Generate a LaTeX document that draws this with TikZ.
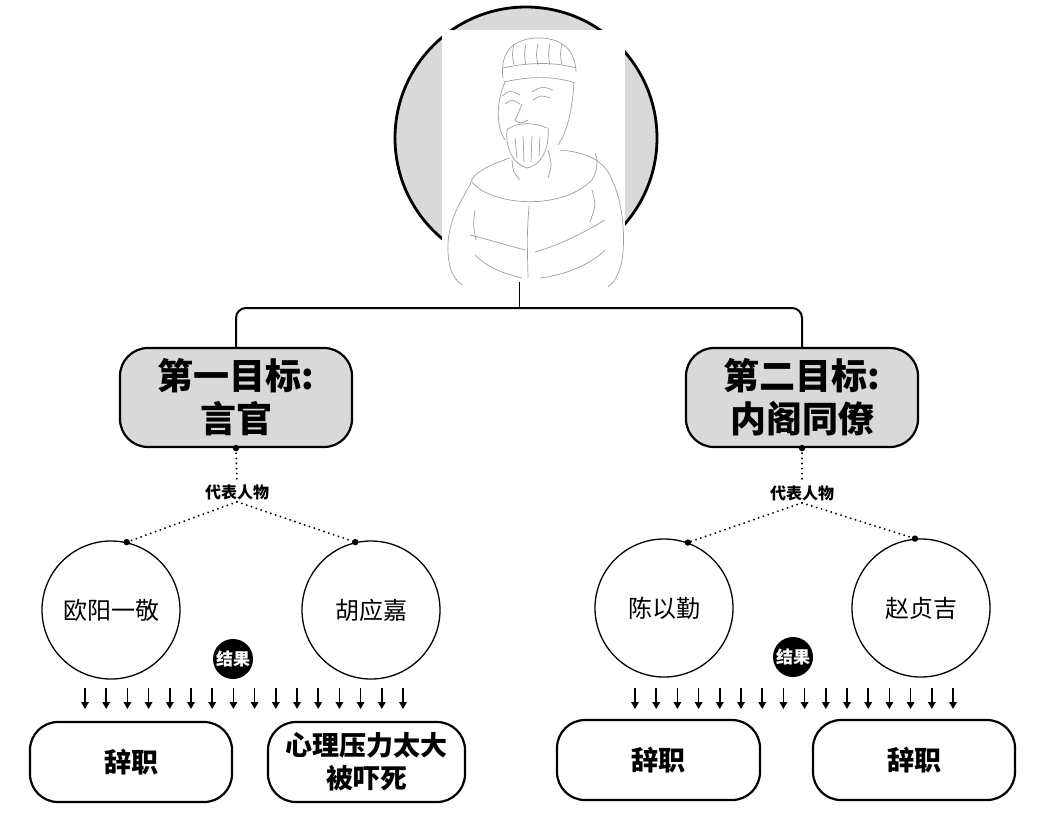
\documentclass[tikz,border=0pt]{standalone}
\usepackage{fontspec}
\newfontfamily\cjk{Noto Sans CJK SC}
\usetikzlibrary{arrows.meta}

\begin{document}
\begin{tikzpicture}[x=1pt,y=-1pt,
  goal/.style={rectangle, rounded corners=28pt, draw=black, line width=2.2pt, fill=gray!30,
    minimum width=232pt, minimum height=99pt, align=center,
    font={\cjk\bfseries\fontsize{36}{43}\selectfont}},
  person/.style={circle, draw=black, line width=1.3pt, minimum size=138pt,
    font={\cjk\fontsize{24}{28}\selectfont}},
  outcome/.style={rectangle, rounded corners=28pt, draw=black, line width=2.2pt, fill=white,
    minimum height=80pt, align=center, font={\cjk\bfseries\fontsize{27}{33}\selectfont}},
  tag/.style={font={\cjk\bfseries\fontsize{16}{18}\selectfont}, inner sep=2pt},
  result/.style={circle, fill=black, text=white, minimum size=40pt, inner sep=0pt,
    font={\cjk\bfseries\fontsize{17}{19}\selectfont}},
  link/.style={draw=black, line width=2pt},
  dotline/.style={draw=black, line width=2pt, line cap=round, dash pattern=on 0.1pt off 5pt},
  tick/.style={draw=black, line width=1.7pt, -{Triangle[length=7pt,width=7.5pt]}},
  sketch/.style={draw=gray!75, line width=0.7pt}]
\path[use as bounding box, fill=white] (0,0) rectangle (1038,812);

% portrait
\node[circle, draw=black, line width=2.8pt, fill=gray!30, minimum size=262pt] (portrait) at (526,138) {};
\node[rectangle, fill=white, minimum width=183pt, minimum height=256pt, inner sep=0pt] (figure) at (533.5,158) {};
\draw[sketch] (503,78) .. controls (500,55) and (510,40) .. (535,38) .. controls (560,37) and (575,48) .. (576,72);
\draw[sketch] (503,68) .. controls (530,62) and (555,62) .. (576,68);
\draw[sketch] (504,82) .. controls (530,76) and (555,76) .. (575,83);
\foreach \s in {514,526,538,550,562}
  \draw[sketch] (\s,44) .. controls (\s-2,54) .. (\s,65);
\draw[sketch] (505,82) .. controls (497,100) and (495,125) .. (505,140);
\draw[sketch] (574,83) .. controls (572,110) and (568,130) .. (558,145);
\draw[sketch] (502,96) .. controls (510,90) .. (520,95);
\draw[sketch] (532,92) .. controls (542,86) .. (553,90);
\draw[sketch] (505,104) .. controls (512,99) .. (520,104);
\draw[sketch] (533,100) .. controls (541,95) .. (550,98);
\draw[sketch] (522,104) .. controls (518,114) .. (515,120) .. controls (520,124) .. (528,120);
\draw[sketch] (507,130) .. controls (515,122) and (535,122) .. (547,128);
\draw[sketch] (507,130) .. controls (505,150) and (515,165) .. (527,168) .. controls (540,166) and (550,150) .. (548,128);
\draw[sketch] (515,138) -- (517,158) (523,136) -- (524,162) (532,136) -- (531,162) (540,137) -- (539,156);
\draw[sketch] (512,160) .. controls (513,172) .. (520,180);
\draw[sketch] (548,150) .. controls (552,165) .. (548,178);
\draw[sketch] (510,158) .. controls (490,165) and (472,172) .. (470,185) .. controls (458,205) and (447,225) .. (448,250) .. controls (448,265) and (452,278) .. (462,285);
\draw[sketch] (560,150) .. controls (585,152) and (605,160) .. (612,180) .. controls (622,200) and (626,235) .. (622,260) .. controls (620,272) and (615,282) .. (608,287);
\draw[sketch] (472,182) .. controls (490,205) and (560,212) .. (592,180) .. controls (598,170) and (598,160) .. (595,153);
\draw[sketch] (529,206) .. controls (527,235) .. (528,278);
\draw[sketch] (470,235) .. controls (490,240) and (510,246) .. (525,250);
\draw[sketch] (535,252) .. controls (560,245) and (585,232) .. (605,220);
\draw[sketch] (475,255) .. controls (490,270) and (510,275) .. (522,278);
\draw[sketch] (540,278) .. controls (565,275) and (590,265) .. (605,250);
\draw[sketch] (475,210) .. controls (473,225) .. (476,240);
\draw[sketch] (592,190) .. controls (596,205) .. (590,222);
\coordinate (neck) at (519,282);
\coordinate (bar) at (519,308);

% targets
\node[goal] (goalA) at (236,397.5) {第一目标:\\言官};
\node[goal] (goalB) at (802,397.5) {第二目标:\\内阁同僚};
\draw[line width=1pt] (neck) -- (bar);
\draw[link, rounded corners=10pt] (goalA.north) |- (bar) -| (goalB.north);

% representatives
\node[tag] (repA) at (237,492) {代表人物};
\node[tag] (repB) at (802,493) {代表人物};
\node[person] (pA1) at (111,610) {欧阳一敬};
\node[person] (pA2) at (371,610) {胡应嘉};
\node[person] (pB1) at (664,608) {陈以勤};
\node[person] (pB2) at (921,608) {赵贞吉};
\draw[dotline] (goalA.south) -- (repA.north);
\draw[dotline] (repA.south) -- (pA1.77);
\draw[dotline] (repA.south) -- (pA2.103);
\draw[dotline] (goalB.south) -- (repB.north);
\draw[dotline] (repB.south) -- (pB1.70);
\draw[dotline] (repB.south) -- (pB2.95);
\foreach \p in {goalA.south, goalB.south, pA1.77, pA2.103, pB1.70, pB2.95}
  \fill (\p) circle (3.2pt);

% results
\node[result] (resA) at (233,659) {结果};
\node[result] (resB) at (793,657) {结果};
\foreach \i in {0,...,15} {
  \draw[tick] (85+21.2*\i,688) -- (85+21.2*\i,709);
  \draw[tick] (635+21.2*\i,688) -- (635+21.2*\i,709);
}
\node[outcome, minimum width=202pt] (outA1) at (131,762) {辞职};
\node[outcome, minimum width=197pt] (outA2) at (366.5,762) {心理压力太大\\被吓死};
\node[outcome, minimum width=203pt] (outB1) at (658.5,760) {辞职};
\node[outcome, minimum width=202pt] (outB2) at (914,760) {辞职};
\end{tikzpicture}
\end{document}
